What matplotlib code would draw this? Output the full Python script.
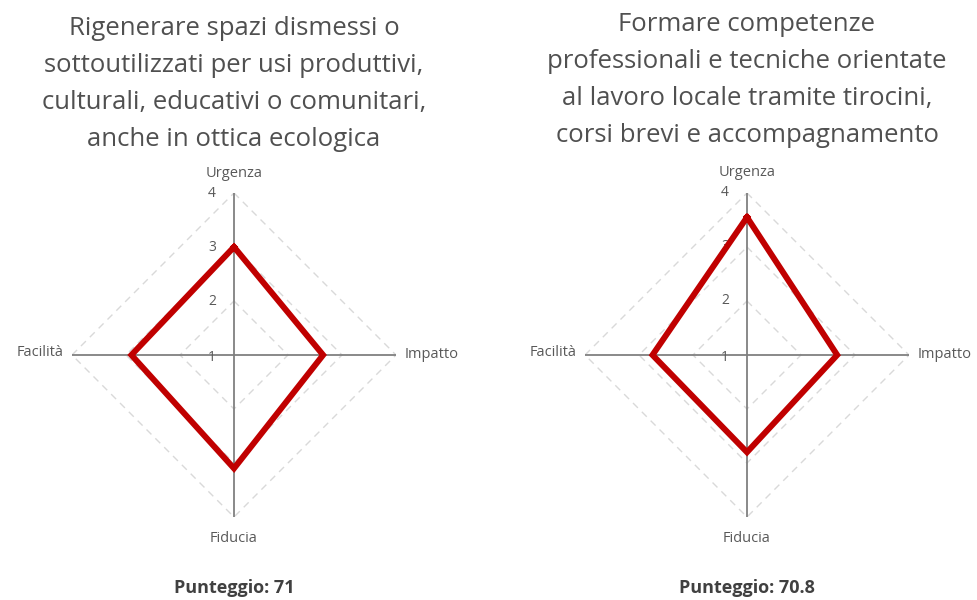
import numpy as np
import matplotlib
matplotlib.use("Agg")
from matplotlib import pyplot as plt

# dati
categorie = ["Urgenza", "Impatto", "Fiducia", "Facilità"]
titoli = [
    "Rigenerare spazi dismessi o\nsottoutilizzati per usi produttivi,\nculturali, educativi o comunitari,\nanche in ottica ecologica",
    "Formare competenze\nprofessionali e tecniche orientate\nal lavoro locale tramite tirocini,\ncorsi brevi e accompagnamento",
]
valori_sx = [3.0, 2.65, 3.1, 2.9]
valori_dx = [3.55, 2.67, 2.8, 2.75]
punteggi = ["71", "70.8"]
tick_r = [1, 2, 3, 4]

plt.rcParams['font.family'] = ['Open Sans', 'DejaVu Sans']

fig = plt.figure(figsize=(9.77, 6.0), dpi=100)
angoli = np.arange(len(categorie)) * 2 * np.pi / len(categorie)

posizioni = [(234, 355), (747, 355)]   # centro in pixel
centri_titolo = [84, 80]
raggio = 162
for (cx, cy), valori, titolo, punti, ty in zip(posizioni, [valori_sx, valori_dx], titoli, punteggi, centri_titolo):
    ax = fig.add_axes([(cx - raggio) / 977, (600 - cy - raggio) / 600,
                       2 * raggio / 977, 2 * raggio / 600], projection="polar")
    ax.set_theta_offset(np.pi / 2)
    ax.set_theta_direction(-1)
    ax.set_ylim(1, 4)
    ax.spines["polar"].set_visible(False)
    ax.grid(False)
    ax.set_xticks([])
    ax.set_yticks([])
    ax.patch.set_alpha(0)

    # griglia a rombo tratteggiata
    for r in tick_r[1:]:
        ax.plot(np.append(angoli, angoli[0]), [r] * (len(angoli) + 1),
                color="#d9d9d9", lw=1.0, ls=(0, (5, 4)), zorder=1)
    # assi
    for a in angoli:
        ax.plot([a, a], [1, 4], color="#808080", lw=1.3, zorder=2)
    # serie
    ax.plot(np.append(angoli, angoli[0]), valori + [valori[0]],
            color="#c00000", lw=4.3, solid_joinstyle="miter", zorder=3)

    # etichette radiali
    for r in tick_r:
        ax.annotate(str(r), (0, r), xytext=(-13, -2 if r == 1 else 0), textcoords="offset points",
                    ha="right", va="center", fontsize=10, color="#595959", zorder=2)
    # etichette categorie
    offs = [(0, 9, "center", "bottom"), (6, 0, "left", "center"),
            (0, -10, "center", "top"), (-6, 2, "right", "center")]
    for a, nome, (dx, dy, ha, va) in zip(angoli, categorie, offs):
        ax.annotate(nome, (a, 4), xytext=(dx, dy), textcoords="offset points",
                    ha=ha, va=va, fontsize=10.5, color="#595959")

    fig.text(cx / 977, 1 - ty / 600, titolo, ha="center", va="center", fontsize=18.5,
             color="#505050", linespacing=1.62)
    fig.text(cx / 977, 1 - 588 / 600, "Punteggio: " + punti, ha="center", va="center",
             fontsize=13, fontweight="bold", color="#404040")

fig.savefig("out.png", dpi=100, facecolor="white")
